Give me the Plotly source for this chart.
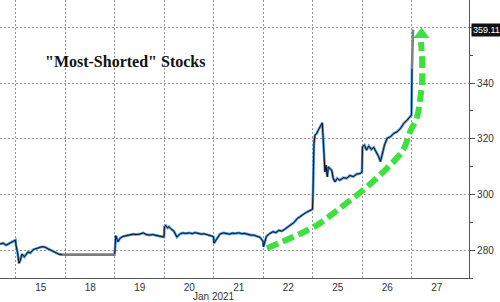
import numpy as np
import plotly.graph_objects as go

# ---- data -------------------------------------------------------------
# trading-day cells (0 = Jan 15 ... 8 = Jan 27); -1 = Jan 14 (partially visible)
day_labels = ["15", "18", "19", "20", "21", "22", "25", "26", "27"]
day_pos = {"14": -1, "15": 0, "18": 1, "19": 2, "20": 3, "21": 4,
           "22": 5, "25": 6, "26": 7, "27": 8}
y_grid = [280, 300, 320, 340, 360]
y_labels = ["280", "300", "320", "340", ""]

# intraday fraction of each day cell, and basket level
jan14_f = [0.677, 0.74, 0.80, 0.86, 0.92, 0.99]
jan14_p = [282.2, 282.5, 281.8, 282.4, 283.0, 283.6]

jan15_f = [0.0, 0.03, 0.06, 0.09, 0.12, 0.17, 0.24, 0.29, 0.35, 0.41, 0.47,
           0.52, 0.58, 0.64, 0.70, 0.76, 0.81, 0.87, 0.93]
jan15_p = [281.8, 279.3, 275.3, 276.4, 278.6, 277.6, 279.3, 279.0, 280.2, 280.6,
           281.0, 281.2, 281.1, 280.6, 280.0, 279.5, 278.9, 278.5, 278.4]

# MLK holiday: market closed, level flat
jan18_f = [0.0, 0.99]
jan18_p = [278.4, 278.4]

jan19_f = [0.0, 0.015, 0.06, 0.10, 0.16, 0.22, 0.30, 0.37, 0.43, 0.50, 0.57,
           0.63, 0.70, 0.76, 0.83, 0.90, 0.95, 0.99]
jan19_p = [280.0, 285.2, 283.0, 284.2, 284.9, 285.2, 285.4, 285.75, 285.6, 285.75,
           286.2, 285.6, 285.4, 285.6, 285.3, 285.0, 284.8, 284.7]

jan20_f = [0.0, 0.03, 0.06, 0.09, 0.12, 0.19, 0.25, 0.31, 0.37, 0.43, 0.50,
           0.56, 0.62, 0.68, 0.74, 0.80, 0.87, 0.93, 0.99]
jan20_p = [288.4, 288.8, 288.0, 288.4, 287.8, 286.8, 284.7, 285.8, 286.2, 286.0,
           286.2, 285.9, 286.3, 286.1, 285.75, 285.9, 285.6, 285.3, 284.85]

jan21_f = [0.0, 0.06, 0.12, 0.19, 0.25, 0.31, 0.37, 0.43, 0.50, 0.56, 0.62,
           0.68, 0.74, 0.80, 0.87, 0.93, 0.99]
jan21_p = [282.5, 284.3, 285.75, 286.2, 286.0, 285.75, 286.1, 286.0, 286.2, 285.9,
           286.0, 285.6, 285.4, 285.4, 285.0, 284.6, 283.2]

jan22_f = [0.0, 0.06, 0.12, 0.19, 0.25, 0.31, 0.37, 0.43, 0.50, 0.56, 0.62,
           0.68, 0.74, 0.80, 0.87, 0.93, 0.99]
jan22_p = [281.2, 285.0, 285.9, 286.6, 286.3, 287.1, 286.8, 287.5, 288.4, 289.2,
           290.0, 291.3, 292.2, 292.8, 293.6, 294.2, 294.7]

jan25_f = [0.0, 0.02, 0.04, 0.075, 0.107, 0.155, 0.188, 0.208, 0.222, 0.242,
           0.263, 0.289, 0.309, 0.343, 0.378, 0.410, 0.444, 0.491, 0.545, 0.612,
           0.681, 0.747, 0.814, 0.883, 0.949, 0.99]
jan25_p = [300.0, 318.1, 321.3, 321.9, 323.1, 324.9, 325.7, 319.5, 312.3, 308.1,
           310.5, 306.3, 309.9, 309.3, 308.7, 305.75, 304.5, 305.75, 305.1, 306.0,
           305.8, 306.8, 306.4, 307.3, 307.5, 308.0]

jan26_f = [0.0, 0.04, 0.081, 0.127, 0.176, 0.228, 0.283, 0.329, 0.364, 0.404,
           0.444, 0.499, 0.566, 0.632, 0.701, 0.768, 0.834, 0.903, 0.956, 0.99]
jan26_p = [317.1, 317.7, 315.9, 317.4, 316.2, 316.9, 315.3, 313.5, 311.8, 314.5,
           317.7, 320.2, 320.7, 321.9, 322.5, 323.7, 325.5, 326.7, 327.9, 328.5]

jan27_f = [0.0, 0.02]
jan27_p = [345.0, 359.11]

last_price = 359.11

# decorative green arrow path (trading-day position, level)
arrow_x = [5.071, 5.596, 6.081, 6.545, 7.010, 7.414, 7.818, 7.960, 8.101,
           8.162, 8.202, 8.202, 8.182]
arrow_y = [280.7, 284.7, 289.0, 295.1, 301.5, 308.0, 315.9, 322.4, 327.8,
           333.9, 340.0, 349.3, 354.7]
arrow_head = (8.192, 357.4)

# ---- build series -----------------------------------------------------
segments = [("14", jan14_f, jan14_p), ("15", jan15_f, jan15_p),
            ("18", jan18_f, jan18_p), ("19", jan19_f, jan19_p),
            ("20", jan20_f, jan20_p), ("21", jan21_f, jan21_p),
            ("22", jan22_f, jan22_p), ("25", jan25_f, jan25_p),
            ("26", jan26_f, jan26_p), ("27", jan27_f, jan27_p)]
xs, ys = [], []
for d, f, p in segments:
    xs += [day_pos[d] + v for v in f]
    ys += list(p)

hol_x = [day_pos["15"] + jan15_f[-1]] + [day_pos["18"] + v for v in jan18_f] + [day_pos["19"]]
hol_y = [jan15_p[-1]] + jan18_p + [jan18_p[-1]]

grid_col = "#999999"
axis_col = "#555555"
font_fam = "Liberation Sans, Arial, sans-serif"

fig = go.Figure()

fig.add_trace(go.Scatter(x=xs, y=ys, mode="lines",
                         line=dict(color="#4a92dc", width=2.6), hoverinfo="skip"))
fig.add_trace(go.Scatter(x=xs, y=ys, mode="lines",
                         line=dict(color="#111111", width=1.0), hoverinfo="skip"))
fig.add_trace(go.Scatter(x=hol_x, y=hol_y, mode="lines",
                         line=dict(color="#808080", width=1.6), hoverinfo="skip"))
# spike into Jan 27 drawn gray
fig.add_trace(go.Scatter(x=[day_pos["27"] + f for f in jan27_f], y=jan27_p, mode="lines",
                         line=dict(color="#8a8a8a", width=1.6), hoverinfo="skip"))

fig.add_trace(go.Scatter(x=arrow_x, y=arrow_y, mode="lines",
                         line=dict(color="#3ee03e", width=6, dash="12px,5px", shape="spline"),
                         hoverinfo="skip"))
fig.add_trace(go.Scatter(x=[arrow_head[0]], y=[arrow_head[1]], mode="markers",
                         marker=dict(symbol="triangle-up", size=14, color="#3ee03e",
                                     line=dict(width=0)),
                         hoverinfo="skip"))

fig.update_layout(
    width=500, height=302,
    margin=dict(l=0, r=31, t=0, b=24),
    paper_bgcolor="white", plot_bgcolor="white",
    showlegend=False,
    font=dict(family=font_fam, size=10, color="#333333"),
    xaxis=dict(
        range=[-0.323, 9.152],
        tickmode="array",
        tickvals=[i + 0.5 for i in range(len(day_labels))],
        ticktext=day_labels,
        ticks="", showgrid=False, zeroline=False,
        showline=True, linecolor=axis_col, linewidth=1.2,
        tickfont=dict(size=10, color="#333333"),
        minor=dict(tickmode="array", tickvals=list(range(len(day_labels))),
                   showgrid=True, gridcolor=grid_col, griddash="2px,2px",
                   gridwidth=1, ticks=""),
        fixedrange=True,
    ),
    yaxis=dict(
        range=[270.0, 369.8],
        side="right",
        tickmode="array",
        tickvals=y_grid,
        ticktext=y_labels,
        ticks="outside", ticklen=5, tickcolor=axis_col, tickwidth=1,
        showgrid=True, gridcolor=grid_col, griddash="2px,2px", gridwidth=1,
        zeroline=False,
        showline=True, linecolor=axis_col, linewidth=1.2,
        tickfont=dict(size=10, color="#333333"),
        minor=dict(tickmode="array", tickvals=[270, 290, 310, 330, 350],
                   ticks="outside", ticklen=3, tickcolor=axis_col, showgrid=False),
        fixedrange=True,
    ),
    annotations=[
        dict(text="<b>\"Most-Shorted\" Stocks</b>", xref="paper", yref="paper",
             x=0.2665, y=0.777, xanchor="center", yanchor="middle", showarrow=False,
             font=dict(family="Liberation Serif, Times New Roman, serif", size=16,
                       color="#111111")),
        dict(text="Jan 2021", xref="x", yref="paper", x=4.0, y=0, yshift=-18,
             xanchor="center", yanchor="middle", showarrow=False,
             font=dict(size=10, color="#333333")),
        dict(text=f"{last_price:.2f}", xref="paper", yref="y", x=1, y=last_price,
             xanchor="left", yanchor="middle", xshift=2, showarrow=False,
             bgcolor="#111111", borderpad=1,
             font=dict(size=9, color="white")),
    ],
)

fig.write_html("out.html")
